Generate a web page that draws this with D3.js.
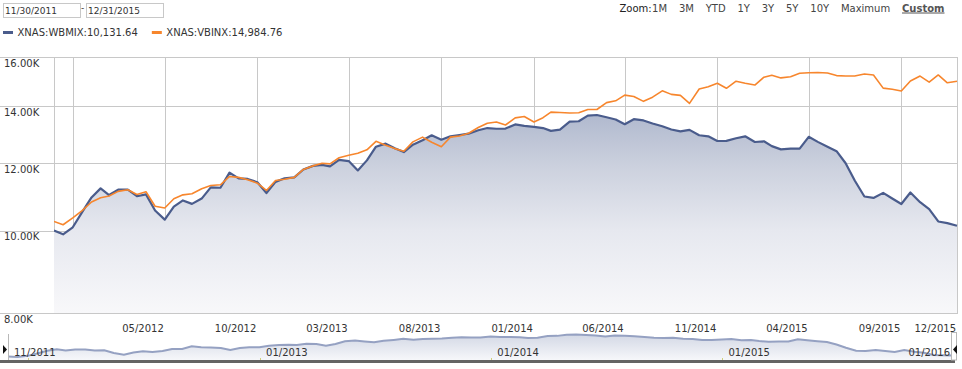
<!DOCTYPE html>
<html>
<head>
<meta charset="utf-8">
<script src="https://cdn.jsdelivr.net/npm/d3@7"></script>
<style>
  html, body { margin: 0; padding: 0; background: #fff; }
  svg { display: block; font-family: "DejaVu Sans", Verdana, sans-serif; }
</style>
</head>
<body>
<svg id="chart" width="962" height="369"></svg>
<script>
"use strict";

// ------------------------- Data -------------------------

const fromDate = '2011-11-30';
const toDate = '2015-12-31';
const seriesNames = ['XNAS:WBMIX', 'XNAS:VBINX'];

// semi-monthly closes (15th and month end), growth of 10K
const wbmix = [
    10000, 9900, 10090, 10500, 10940, 11210, 11010, 11170, 11170, 10975,
    11030, 10560, 10300, 10670, 10850, 10750, 10905, 11240, 11230, 11700,
    11520, 11500, 11400, 11070, 11410, 11520, 11550, 11800, 11915, 11945,
    11900, 12110, 12070, 11770, 12094, 12550, 12655, 12495, 12370, 12620,
    12770, 12945, 12790, 12908, 12955, 13000, 13120, 13200, 13175, 13180,
    13330, 13275, 13245, 13200, 13100, 13145, 13430, 13445, 13650, 13675,
    13590, 13510, 13337, 13520, 13475, 13365, 13264, 13150, 13080, 13135,
    12945, 12908, 12745, 12750, 12840, 12908, 12710, 12735, 12570, 12460,
    12485, 12485, 12890, 12715, 12550, 12400, 12000, 11454, 10966, 10925,
    11075, 10907, 10745, 11086, 10800, 10600, 10250, 10205, 10131.64
];

const vbinx = [
    10250, 10160, 10350, 10550, 10805, 10930, 10980, 11120, 11170, 11026,
    11110, 10680, 10630, 10900, 11016, 11050, 11200, 11300, 11320, 11579,
    11550, 11475, 11370, 11147, 11454, 11490, 11550, 11800, 11915, 12000,
    11980, 12180, 12260, 12330, 12445, 12735, 12600, 12485, 12395, 12715,
    12880, 12700, 12550, 12880, 12920, 13015, 13220, 13375, 13420, 13310,
    13570, 13620, 13420, 13575, 13780, 13770, 13750, 13760, 13880, 13880,
    14140, 14210, 14430, 14380, 14190, 14350, 14600, 14460, 14420, 14110,
    14670, 14760, 14900, 14700, 14985, 14900, 14830, 15150, 15230, 15120,
    15170, 15310, 15330, 15340, 15320, 15215, 15195, 15200, 15278, 15240,
    14707, 14660, 14590, 14990, 15195, 14950, 15240, 14920, 14984.76
];

const yTicks = [8000, 10000, 12000, 14000, 16000];
const xTicks = ['2011-12-31', '2012-05-31', '2012-10-31', '2013-03-31', '2013-08-31',
    '2014-01-31', '2014-06-30', '2014-11-30', '2015-04-30', '2015-09-30', '2015-12-31'];
const navTicks = ['2012-01-01', '2013-01-01', '2014-01-01', '2015-01-01'];
const navLabelDates = ['2011-11-30', '2013-01-01', '2014-01-01', '2015-01-01', '2016-01-01'];
const zoomButtons = ['1M', '3M', 'YTD', '1Y', '3Y', '5Y', '10Y', 'Maximum', 'Custom'];


// ------------------------- Setup -------------------------

const parseDate = d3.timeParse('%Y-%m-%d');
const monthYear = d3.timeFormat('%m/%Y');
const inputDate = d3.timeFormat('%m/%d/%Y');

const plot = { left: 54, right: 957, top: 57, bottom: 313 };
const nav = { left: 8, right: 953, top: 334, bottom: 360 };

const dates = observationDates();
const svg = d3.select('#chart');

const x = d3.scaleTime()
    .domain([parseDate(fromDate), parseDate(toDate)])
    .range([plot.left, plot.right]);

const y = d3.scaleLog()
    .domain([yTicks[0], yTicks[yTicks.length - 1]])
    .range([plot.bottom, plot.top]);

renderHeader();
renderGrid();
renderSeries();
renderNavigator();


// ------------------------- Helpers -------------------------

function observationDates() {
    const list = [parseDate(fromDate)];
    d3.timeMonths(new Date(2011, 11, 1), new Date(2016, 0, 1)).forEach(m => {
        list.push(new Date(m.getFullYear(), m.getMonth(), 15));
        list.push(new Date(m.getFullYear(), m.getMonth() + 1, 0));
    });
    return list;
}

function crisp(v) {
    return Math.round(v) + 0.5;
}

function renderHeader() {
    const inputs = svg.append('g').attr('font-size', 9).attr('fill', '#333');
    [fromDate, toDate].forEach((d, i) => {
        const left = 3.5 + i * 83;
        inputs.append('rect')
            .attr('x', left).attr('y', 3.5)
            .attr('width', 77).attr('height', 14)
            .attr('fill', '#fff').attr('stroke', '#c8c8c8');
        inputs.append('text')
            .attr('x', left + 1.5).attr('y', 14)
            .text(inputDate(parseDate(d)));
    });
    inputs.append('text').attr('x', 81).attr('y', 11).text('-');

    // legend
    const legend = svg.append('g').attr('font-size', 10).attr('fill', '#333');
    const colors = ['#4a5c8c', '#f7862d'];
    const lastValues = [wbmix[wbmix.length - 1], vbinx[vbinx.length - 1]];
    let cursor = 3;
    seriesNames.forEach((name, i) => {
        legend.append('rect')
            .attr('x', cursor).attr('y', 31)
            .attr('width', 10).attr('height', 3)
            .attr('fill', colors[i]);
        const label = legend.append('text')
            .attr('x', cursor + 14.5).attr('y', 36)
            .text(`${name}:${d3.format(',.2f')(lastValues[i])}`);
        cursor += 14.5 + label.node().getComputedTextLength() + 14;
    });

    // zoom buttons, laid out from the right
    const zoom = svg.append('g').attr('font-size', 10);
    let right = 944.5;
    const labels = [];
    zoomButtons.slice().reverse().forEach(b => {
        const custom = b === 'Custom';
        const t = zoom.append('text')
            .attr('y', 11.5)
            .attr('fill', custom ? '#555' : '#444')
            .attr('font-weight', custom ? 'bold' : null)
            .attr('text-decoration', custom ? 'underline' : null)
            .text(b);
        const w = t.node().getComputedTextLength();
        t.attr('x', right - w);
        labels.push(t);
        right = right - w - 11.8;
    });
    const first = labels[labels.length - 1];
    const zoomLabel = zoom.append('text').attr('y', 11.5).attr('fill', '#222').text('Zoom:');
    zoomLabel.attr('x', +first.attr('x') - zoomLabel.node().getComputedTextLength() - 0.5);
}

function renderGrid() {
    const grid = svg.append('g').attr('stroke', '#c8c8c8').attr('stroke-width', 1);

    grid.selectAll('.h-line')
        .data(yTicks)
        .enter().append('line')
        .attr('x1', 0).attr('x2', plot.right + 1)
        .attr('y1', v => crisp(y(v))).attr('y2', v => crisp(y(v)));

    const verticals = [parseDate(fromDate)].concat(xTicks.map(parseDate));
    grid.selectAll('.v-line')
        .data(verticals)
        .enter().append('line')
        .attr('x1', d => crisp(x(d))).attr('x2', d => crisp(x(d)))
        .attr('y1', plot.top).attr('y2', plot.bottom);

    svg.append('g')
        .attr('font-size', 10).attr('fill', '#333')
        .selectAll('text')
        .data(yTicks)
        .enter().append('text')
        .attr('x', 4)
        .attr('y', v => y(v) + 9.5)
        .text(v => d3.format('.2f')(v / 1000) + 'K');

    svg.append('g')
        .attr('font-size', 10).attr('fill', '#333')
        .attr('text-anchor', 'end')
        .selectAll('text')
        .data(xTicks.map(parseDate).filter(d => x(d) - 45 > plot.left))
        .enter().append('text')
        .attr('x', d => Math.min(x(d) - 1, plot.right + 1))
        .attr('y', 331.5)
        .text(d => monthYear(d));
}

function renderSeries() {
    const defs = svg.append('defs');
    const grad = defs.append('linearGradient')
        .attr('id', 'area-fill')
        .attr('gradientUnits', 'userSpaceOnUse')
        .attr('x1', 0).attr('x2', 0)
        .attr('y1', 110).attr('y2', plot.bottom);
    [[0, '#aeb7cd'], [0.28, '#ccd1de'], [0.59, '#e6e8ef'], [1, '#f8f8fa']].forEach(([o, c]) => {
        grad.append('stop').attr('offset', o).attr('stop-color', c);
    });

    defs.append('clipPath').attr('id', 'plot-clip')
        .append('rect')
        .attr('x', plot.left).attr('y', plot.top)
        .attr('width', plot.right - plot.left + 2)
        .attr('height', plot.bottom - plot.top);

    const layer = svg.append('g').attr('clip-path', 'url(#plot-clip)');

    const area = d3.area()
        .x((v, i) => x(dates[i]))
        .y0(plot.bottom)
        .y1(v => y(v));

    const line = d3.line()
        .x((v, i) => x(dates[i]))
        .y(v => y(v));

    layer.append('path')
        .attr('d', area(wbmix))
        .attr('fill', 'url(#area-fill)');

    layer.append('path')
        .attr('d', line(wbmix))
        .attr('fill', 'none')
        .attr('stroke', '#4a5c8c')
        .attr('stroke-width', 2.2)
        .attr('stroke-linejoin', 'round');

    layer.append('path')
        .attr('d', line(vbinx))
        .attr('fill', 'none')
        .attr('stroke', '#f7862d')
        .attr('stroke-width', 1.6)
        .attr('stroke-linejoin', 'round');
}

function renderNavigator() {
    const navX = d3.scaleTime()
        .domain([parseDate(fromDate), parseDate(toDate)])
        .range([nav.left, nav.right]);
    const navY = d3.scaleLinear()
        .domain(d3.extent(wbmix))
        .range([357, 334.5]);

    const grad = svg.select('defs').append('linearGradient')
        .attr('id', 'nav-fill')
        .attr('x1', 0).attr('x2', 0).attr('y1', 0).attr('y2', 1);
    grad.append('stop').attr('offset', 0).attr('stop-color', '#d3d8e5');
    grad.append('stop').attr('offset', 1).attr('stop-color', '#f6f7fa');

    const g = svg.append('g');

    g.append('path')
        .attr('d', d3.area()
            .x((v, i) => navX(dates[i]))
            .y0(nav.bottom)
            .y1(v => navY(v))(wbmix))
        .attr('fill', 'url(#nav-fill)');

    g.append('path')
        .attr('d', d3.line()
            .x((v, i) => navX(dates[i]))
            .y(v => navY(v))(wbmix))
        .attr('fill', 'none')
        .attr('stroke', '#95a1c2')
        .attr('stroke-width', 2);

    g.selectAll('.nav-tick')
        .data(navTicks.map(parseDate))
        .enter().append('line')
        .attr('x1', d => crisp(navX(d))).attr('x2', d => crisp(navX(d)))
        .attr('y1', nav.bottom - 2).attr('y2', nav.bottom)
        .attr('stroke', '#d0cf7a');

    const labels = g.append('g').attr('font-size', 10).attr('fill', '#333');
    navLabelDates.map(parseDate).forEach(d => {
        const t = labels.append('text').attr('y', 356).text(monthYear(d));
        const w = t.node().getComputedTextLength();
        t.attr('x', Math.min(navX(d) + 6, nav.right - 3 - w));
    });

    // scrollbar
    g.append('rect')
        .attr('x', 0).attr('y', nav.bottom)
        .attr('width', nav.right + 2).attr('height', 3)
        .attr('fill', '#646464');

    // handles
    g.append('line')
        .attr('x1', nav.left + 0.5).attr('x2', nav.left + 0.5)
        .attr('y1', nav.top).attr('y2', nav.bottom)
        .attr('stroke', '#b8b8b8');
    g.append('path')
        .attr('d', `M${nav.left - 5},${345} L${nav.left - 1},${349.5} L${nav.left - 5},${354} Z`)
        .attr('fill', '#111');

    g.append('rect')
        .attr('x', nav.right - 1.5).attr('y', nav.top - 1.5)
        .attr('width', 5).attr('height', nav.bottom - nav.top + 1.5)
        .attr('fill', '#fff').attr('stroke', '#b8b8b8');
    g.append('path')
        .attr('d', `M${nav.right + 4},${345} L${nav.right},${349.5} L${nav.right + 4},${354} Z`)
        .attr('fill', '#111');
}
</script>
</body>
</html>
